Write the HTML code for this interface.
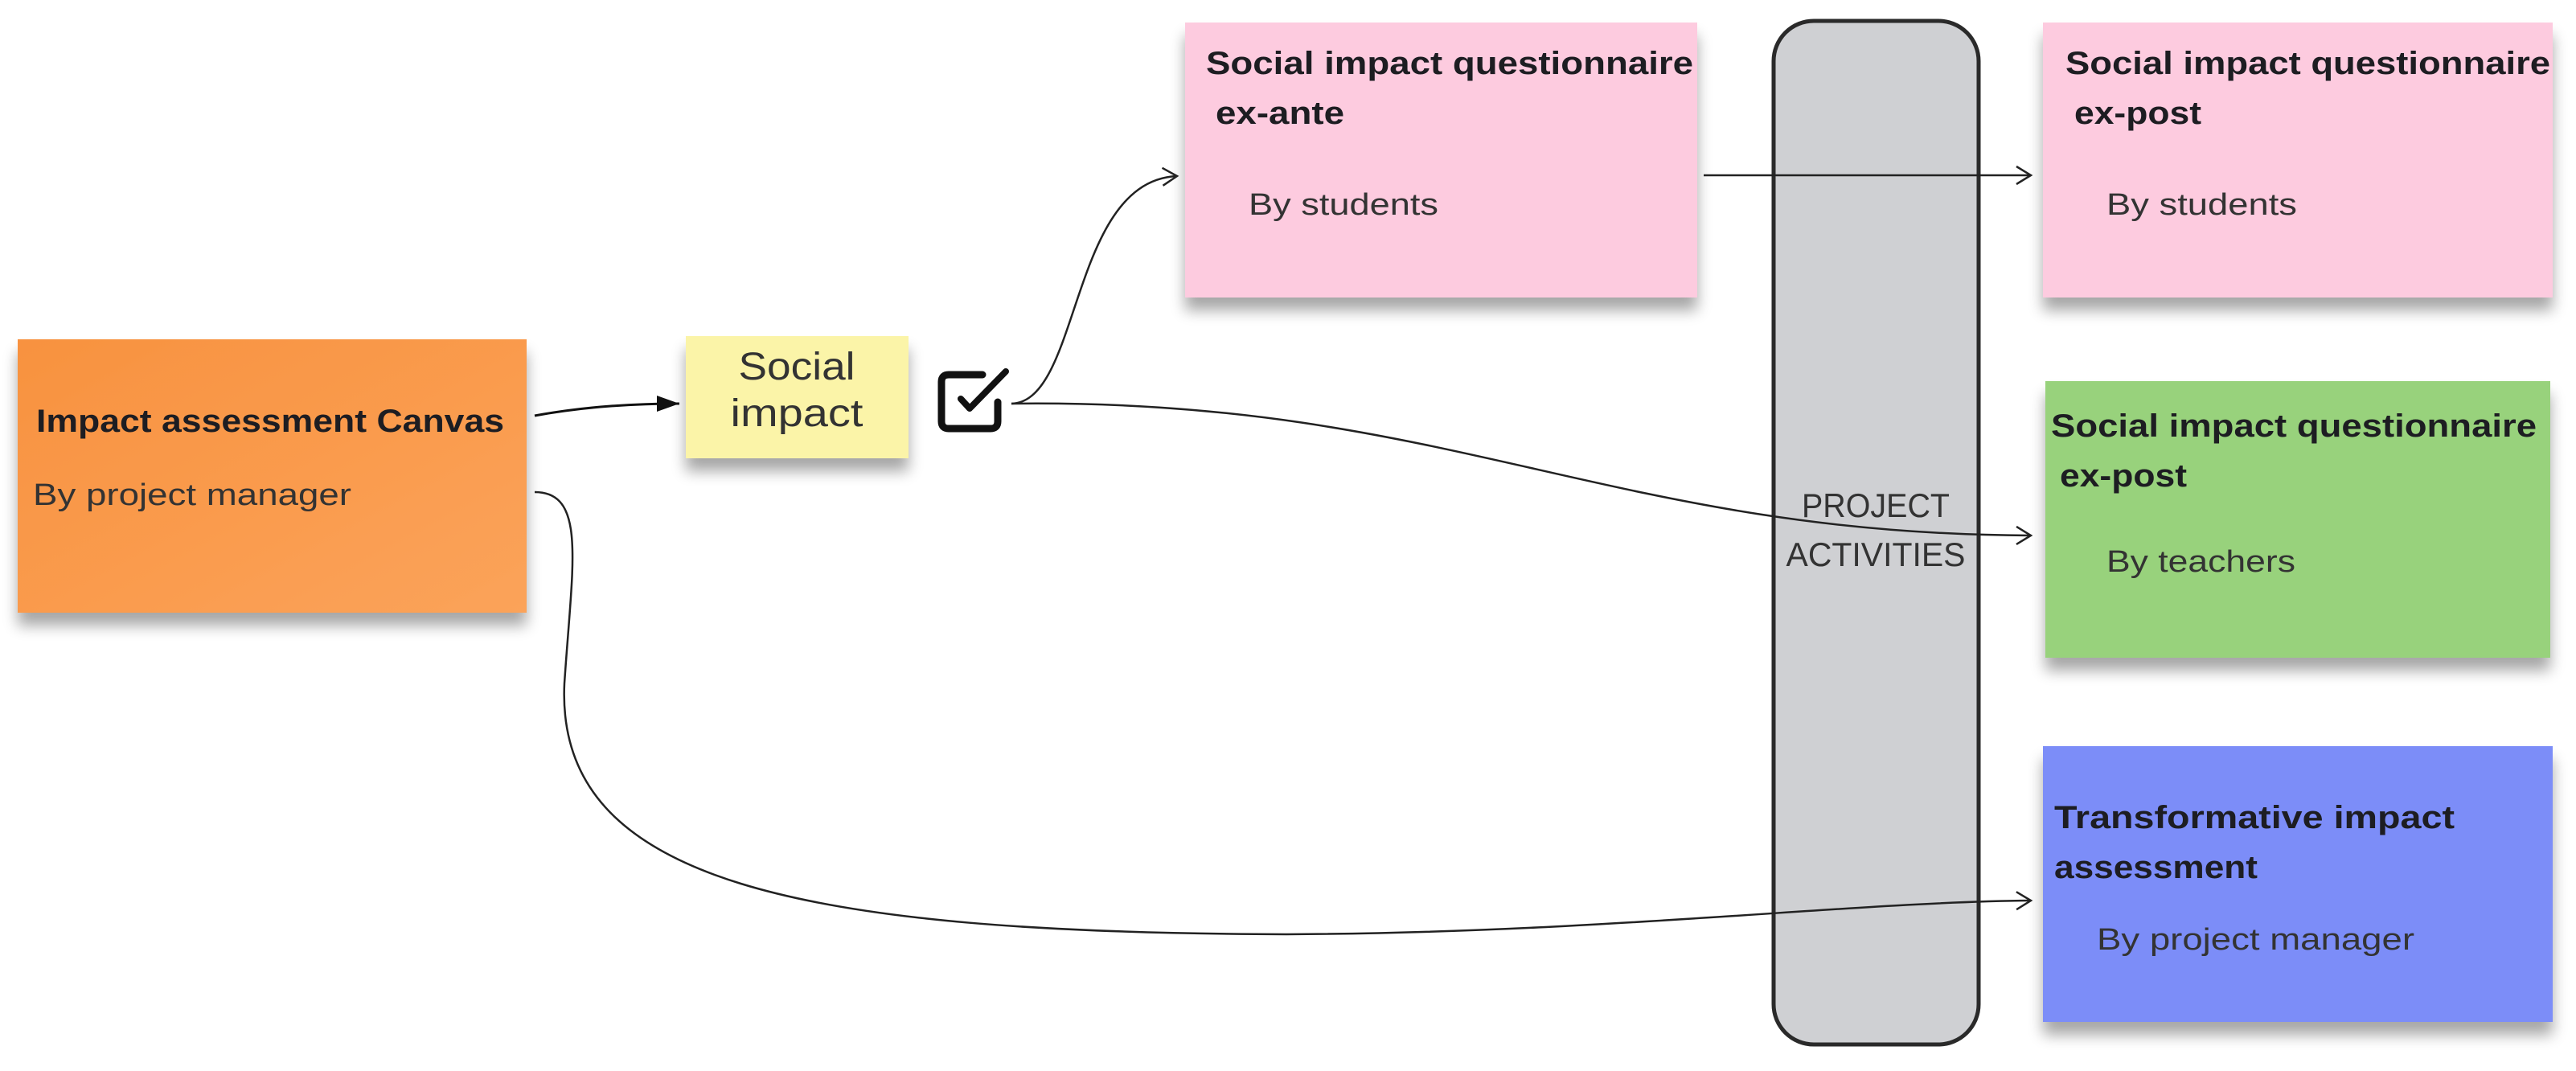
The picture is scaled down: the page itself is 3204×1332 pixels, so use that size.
<!DOCTYPE html>
<html><head><meta charset="utf-8"><style>
html,body{margin:0;padding:0;background:#fff;}
svg{display:block;}
text{font-family:"Liberation Sans",sans-serif;}
.t{font-weight:bold;fill:#1d1d22;font-size:40px;}
.s{fill:#333;font-size:38px;}
</style></head><body>
<svg width="3204" height="1332" viewBox="0 0 3204 1332" xmlns="http://www.w3.org/2000/svg">
<defs>
<filter id="sh" x="-10%" y="-10%" width="120%" height="140%">
<feGaussianBlur in="SourceAlpha" stdDeviation="9"/>
<feOffset dx="0" dy="16"/>
<feComponentTransfer><feFuncA type="linear" slope="0.35"/></feComponentTransfer>
<feMerge><feMergeNode/><feMergeNode in="SourceGraphic"/></feMerge>
</filter>
<linearGradient id="og" x1="0" y1="0" x2="1" y2="1"><stop offset="0" stop-color="#f8923f"/><stop offset="1" stop-color="#fba35a"/></linearGradient>
<marker id="op" markerWidth="30" markerHeight="30" refX="24" refY="15" orient="auto" markerUnits="userSpaceOnUse"><path d="M6,4 L24,15 L6,26" fill="none" stroke="#222" stroke-width="2.5"/></marker>
<marker id="fl" markerWidth="34" markerHeight="30" refX="30" refY="15" orient="auto" markerUnits="userSpaceOnUse"><path d="M2,5 L30,15 L2,25 Z" fill="#111"/></marker>
</defs>
<rect x="22" y="422" width="633" height="340" fill="url(#og)" filter="url(#sh)"/>
<rect x="853" y="418" width="277" height="152" fill="#fbf4a8" filter="url(#sh)"/>
<rect x="1474" y="28" width="637" height="342" fill="#fdcbdf" filter="url(#sh)"/>
<rect x="2541" y="28" width="634" height="342" fill="#fdcbdf" filter="url(#sh)"/>
<rect x="2544" y="474" width="628" height="344" fill="#98d27b" filter="url(#sh)"/>
<rect x="2541" y="928" width="634" height="343" fill="#7b8df8" filter="url(#sh)"/>
<rect x="2206" y="26" width="255" height="1273" rx="50" fill="#cfd0d3" stroke="#2a2a2a" stroke-width="5"/>
<path d="M1222,466 H1180 Q1171,466 1171,475 V524 Q1171,533 1180,533 H1232 Q1241,533 1241,524 V500" fill="none" stroke="#111" stroke-width="9" stroke-linecap="round" stroke-linejoin="round"/>
<path d="M1195,496 L1206,508 L1251,462" fill="none" stroke="#111" stroke-width="8" stroke-linecap="round" stroke-linejoin="round"/>
<path d="M665,517 C730,505 790,502 845,502" fill="none" stroke="#111" stroke-width="3" marker-end="url(#fl)"/>
<path d="M1258,502 C1345,500 1330,225 1464,219" fill="none" stroke="#222" stroke-width="2.5" marker-end="url(#op)"/>
<path d="M1258,502 C1800,495 2000,664 2526,666" fill="none" stroke="#222" stroke-width="2.5" marker-end="url(#op)"/>
<path d="M2119,218 L2526,218" fill="none" stroke="#222" stroke-width="2.5" marker-end="url(#op)"/>
<path d="M665,612 C730,612 712,700 702,850 C690,1100 1000,1160 1600,1162 C2000,1160 2300,1122 2526,1120" fill="none" stroke="#222" stroke-width="2.5" marker-end="url(#op)"/>
<text class="t" x="45" y="537" textLength="582" lengthAdjust="spacingAndGlyphs">Impact assessment Canvas</text>
<text class="s" x="41" y="628" textLength="396" lengthAdjust="spacingAndGlyphs">By project manager</text>
<text x="991" y="472" text-anchor="middle" font-size="48" fill="#333" textLength="145" lengthAdjust="spacingAndGlyphs">Social</text>
<text x="991" y="530" text-anchor="middle" font-size="48" fill="#333" textLength="165" lengthAdjust="spacingAndGlyphs">impact</text>
<text class="t" x="1500" y="92" textLength="606" lengthAdjust="spacingAndGlyphs">Social impact questionnaire</text>
<text class="t" x="1512" y="154" textLength="160" lengthAdjust="spacingAndGlyphs">ex-ante</text>
<text class="s" x="1553" y="267" textLength="236" lengthAdjust="spacingAndGlyphs">By students</text>
<text class="t" x="2569" y="92" textLength="603" lengthAdjust="spacingAndGlyphs">Social impact questionnaire</text>
<text class="t" x="2580" y="154" textLength="158" lengthAdjust="spacingAndGlyphs">ex-post</text>
<text class="s" x="2620" y="267" textLength="237" lengthAdjust="spacingAndGlyphs">By students</text>
<text class="t" x="2551" y="543" textLength="604" lengthAdjust="spacingAndGlyphs">Social impact questionnaire</text>
<text class="t" x="2562" y="605" textLength="158" lengthAdjust="spacingAndGlyphs">ex-post</text>
<text class="s" x="2620" y="711" textLength="235" lengthAdjust="spacingAndGlyphs">By teachers</text>
<text class="t" x="2555" y="1030" textLength="498" lengthAdjust="spacingAndGlyphs" fill="#141a3a">Transformative impact</text>
<text class="t" x="2555" y="1092" textLength="253" lengthAdjust="spacingAndGlyphs" fill="#141a3a">assessment</text>
<text class="s" x="2608" y="1181" textLength="395" lengthAdjust="spacingAndGlyphs">By project manager</text>
<text x="2333" y="643" text-anchor="middle" font-size="42" fill="#333" textLength="184" lengthAdjust="spacingAndGlyphs">PROJECT</text>
<text x="2333" y="704" text-anchor="middle" font-size="42" fill="#333" textLength="223" lengthAdjust="spacingAndGlyphs">ACTIVITIES</text>
</svg>
</body></html>
